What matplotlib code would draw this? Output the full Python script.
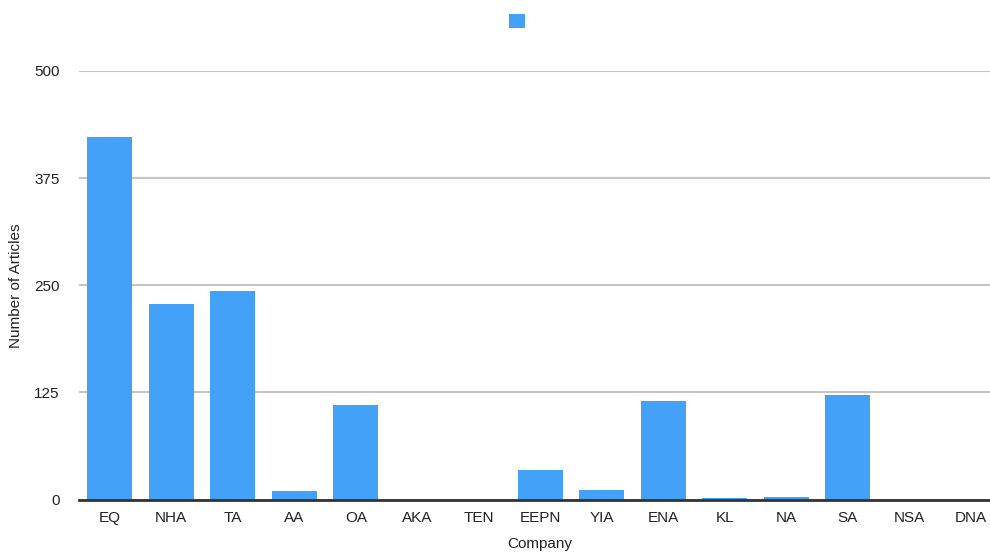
import matplotlib.pyplot as plt

## Articles per company
companies = ['EQ', 'NHA', 'TA', 'AA', 'OA', 'AKA', 'TEN', 'EEPN', 'YIA', 'ENA', 'KL', 'NA', 'SA', 'NSA', 'DNA']
articles = [423, 228, 243, 10, 110, 0, 0, 34, 11, 115, 2, 3, 122, 0, 0]
yticks = [0, 125, 250, 375, 500]

plt.rcParams['font.family'] = ['Liberation Sans', 'DejaVu Sans']

W, H = 990, 552
fig = plt.figure(figsize=(W / 100, H / 100), dpi=100)
## axes run from x=79px to the right edge (plot is cut off there)
left, right, top, bottom = 79, 990, 71, 499.5
ax = fig.add_axes([left / W, 1 - bottom / H, (right - left) / W, (bottom - top) / H])

step = 61.5  # px per category
bars = ax.bar(range(len(companies)), articles, width=0.73, color='#44a1f8', zorder=3)
ax.set_xlim(-0.5, -0.5 + (right - left) / step)
ax.set_ylim(0, 500)

ax.set_yticks(yticks)
ax.set_xticks(range(len(companies)))
ax.set_xticklabels(companies)
ax.tick_params(axis='both', length=0, labelsize=11, colors='#222222')
ax.tick_params(axis='y', pad=14)
ax.tick_params(axis='x', pad=8)

ax.grid(axis='y', color='#c4c4c4', linewidth=1.5, zorder=0)
ax.set_axisbelow(True)
for s in ['top', 'right', 'left']:
    ax.spines[s].set_visible(False)
ax.spines['bottom'].set_color('#333333')
ax.spines['bottom'].set_linewidth(2)
ax.spines['bottom'].set_zorder(4)

ax.set_ylabel('Number of Articles', fontsize=11, color='#222222')
ax.yaxis.set_label_coords((23 - left) / (right - left), 0.5)
ax.set_xlabel('Company', fontsize=11, color='#222222')
ax.xaxis.set_label_coords((540 - left) / (right - left), -(537 - bottom) / (bottom - top))

## legend with no label text, just the swatch
leg = fig.legend(handles=[bars], labels=[''], loc='center',
                 bbox_to_anchor=(517 / W, 1 - 21.5 / H), frameon=False,
                 fontsize=11, handlelength=1.0, handleheight=1.0,
                 handletextpad=0, borderpad=0)

fig.savefig('out.png', dpi=100)
